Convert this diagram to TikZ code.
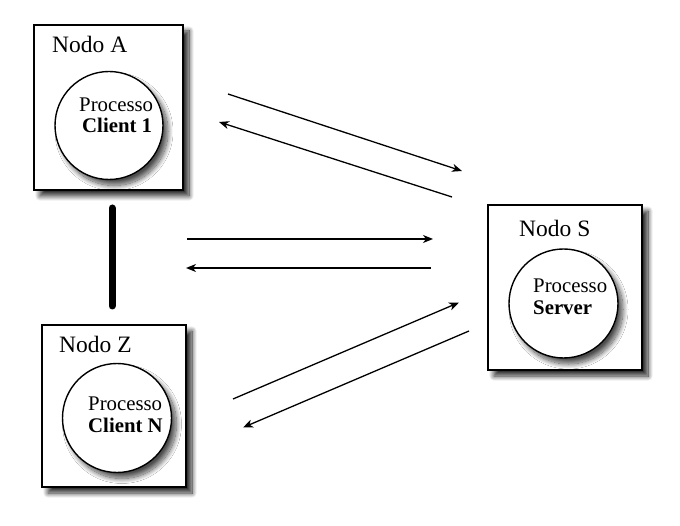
\documentclass[tikz,border=0pt]{standalone}
\usepackage{fontspec}
\setmainfont{Liberation Serif}
\usetikzlibrary{arrows.meta,shadows.blur}
\tikzset{
  hostbox/.style={draw=black, line width=1.4pt, fill=white, rectangle, inner sep=0pt,
    blur shadow={shadow xshift=6pt, shadow yshift=-6pt, shadow blur radius=5pt, shadow blur steps=16, shadow opacity=85}},
  proc/.style={draw=black, line width=1.4pt, fill=white, circle, inner sep=0pt,
    blur shadow={shadow xshift=5pt, shadow yshift=-6pt, shadow blur radius=5pt, shadow blur steps=16, shadow opacity=70}},
  hostlabel/.style={anchor=base west, inner sep=0pt, font=\fontsize{23.5}{26}\selectfont},
  proclabel/.style={anchor=base west, inner sep=0pt, font=\fontsize{20.8}{21.5}\selectfont},
  msg/.style={draw=black, line width=1.3pt, -{Stealth[length=10pt, width=8pt, inset=3pt]}},
  link/.style={draw=black, line width=7pt, line cap=round}
}
\begin{document}
\begin{tikzpicture}[x=1pt, y=-1pt]
\useasboundingbox (0,0) rectangle (680,526);
% hosts
\node[hostbox, minimum width=149pt, minimum height=165pt] (boxA) at (108.5,107.5) {};
\node[hostbox, minimum width=144pt, minimum height=162pt] (boxZ) at (114,406) {};
\node[hostbox, minimum width=154pt, minimum height=165pt] (boxS) at (565,287.5) {};
% processes
\node[proc, minimum size=108pt] (procA) at (109,125.5) {};
\node[proc, minimum size=109pt] (procZ) at (117,418) {};
\node[proc, minimum size=109pt] (procS) at (563.5,303.5) {};
% labels
\node[hostlabel] (labA) at (52,53) {Nodo A};
\node[hostlabel] (labZ) at (59,353) {Nodo Z};
\node[hostlabel] (labS) at (519,237) {Nodo S};
\node[proclabel] (txtA1) at (79,112) {Processo};
\node[proclabel] (txtA2) at (82,133) {\textbf{Client 1}};
\node[proclabel] (txtZ1) at (88,410) {Processo};
\node[proclabel] (txtZ2) at (88,432) {\textbf{Client N}};
\node[proclabel] (txtS1) at (533,293) {Processo};
\node[proclabel] (txtS2) at (533,315) {\textbf{Server}};
% connector end points
\coordinate (a1) at (228,94);   \coordinate (s1) at (462,171);
\coordinate (s2) at (452,197);  \coordinate (a2) at (219,122);
\coordinate (m1) at (187,239);  \coordinate (s3) at (433,239);
\coordinate (s4) at (431,268);  \coordinate (m2) at (186,268);
\coordinate (z1) at (233,399);  \coordinate (s5) at (459,302.5);
\coordinate (s6) at (469,331);  \coordinate (z2) at (243,427.5);
\coordinate (ltop) at (112,208); \coordinate (lbot) at (112,306);
% connectors
\draw[msg] (a1) -- (s1);
\draw[msg] (s2) -- (a2);
\draw[msg] (m1) -- (s3);
\draw[msg] (s4) -- (m2);
\draw[msg] (z1) -- (s5);
\draw[msg] (s6) -- (z2);
\draw[link] (ltop) -- (lbot);
\end{tikzpicture}
\end{document}
